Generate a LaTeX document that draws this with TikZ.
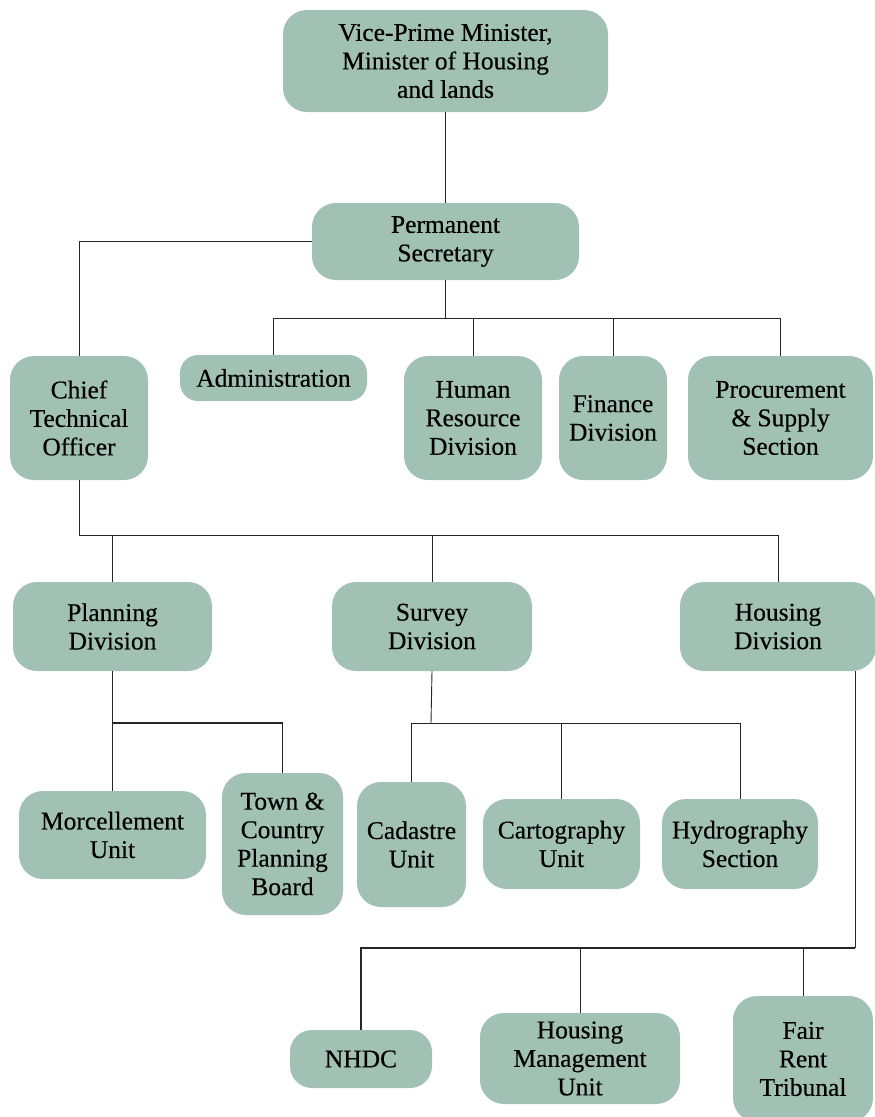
\documentclass[tikz,border=0pt]{standalone}
\usepackage{fontspec}
\setmainfont{Liberation Serif}
\newfontfamily\boxfont{Liberation Serif}[FakeBold=0.35]
\definecolor{boxfill}{RGB}{160,193,180}
\begin{document}
\begin{tikzpicture}[x=1pt,y=-1pt,
  box/.style={fill=boxfill,draw=none,rounded corners=24pt,inner sep=0pt,align=center,
    font=\boxfont\fontsize{25.5}{28.5}\selectfont},
  link/.style={draw=black!85,line width=0.9pt},
  thick link/.style={draw=black!85,line width=1.5pt}]
\useasboundingbox (0,0) rectangle (875,1117);
\node[box,minimum width=325,minimum height=102] (vp) at (445.5,61) {Vice-Prime Minister,\\Minister of Housing\\and lands};
\node[box,minimum width=267,minimum height=77] (ps) at (445.5,241.5) {Permanent\\Secretary};
\node[box,minimum width=138,minimum height=124] (cto) at (79,418) {Chief\\Technical\\Officer};
\node[box,minimum width=187,minimum height=46,rounded corners=18pt] (adm) at (273.5,378) {Administration};
\node[box,minimum width=138,minimum height=124] (hr) at (473,418) {Human\\Resource\\Division};
\node[box,minimum width=108,minimum height=124] (fin) at (613,418) {Finance\\Division};
\node[box,minimum width=185,minimum height=124] (proc) at (780.5,418) {Procurement\\\& Supply\\Section};
\node[box,minimum width=199,minimum height=89] (plan) at (112.5,626.5) {Planning\\Division};
\node[box,minimum width=200,minimum height=89] (surv) at (432,626.5) {Survey\\Division};
\node[box,minimum width=196,minimum height=89] (hous) at (778,626.5) {Housing\\Division};
\node[box,minimum width=187,minimum height=88] (morc) at (112.5,835) {Morcellement\\Unit};
\node[box,minimum width=121,minimum height=142] (town) at (282.5,844) {Town \&\\Country\\Planning\\Board};
\node[box,minimum width=109,minimum height=125] (cad) at (411.5,844.5) {Cadastre\\Unit};
\node[box,minimum width=157,minimum height=90] (carto) at (561.5,844) {Cartography\\Unit};
\node[box,minimum width=156,minimum height=90] (hydro) at (740,844) {Hydrography\\Section};
\node[box,minimum width=142,minimum height=58,rounded corners=22pt] (nhdc) at (361,1059) {NHDC};
\node[box,minimum width=200,minimum height=91] (hmu) at (580,1058.5) {Housing\\Management\\Unit};
\node[box,minimum width=140,minimum height=126] (frt) at (803,1059) {Fair\\Rent\\Tribunal};
% coordinates for buses
\coordinate (b1) at (445.5,318);
\coordinate (b2) at (79,535);
\coordinate (b3) at (112.5,723);
\coordinate (b4) at (431,723);
\coordinate (b5) at (855,948);
% connectors
\draw[link] (vp.south) -- (ps.north);
\draw[link] (ps.west) -| (cto.north);
\draw[link] (ps.south) -- (b1);
\draw[link] (b1) -| (adm.north);
\draw[link] (b1) -| (proc.north);
\draw[link] (hr.north) -- (hr.north |- b1);
\draw[link] (fin.north) -- (fin.north |- b1);
\draw[link] (cto.south) -- (b2);
\draw[link] (b2) -| (hous.north);
\draw[link] (plan.north) -- (plan.north |- b2);
\draw[link] (surv.north) -- (surv.north |- b2);
\draw[link] (plan.south) -- (morc.north);
\draw[thick link] (b3) -| (town.north);
\draw[link] (surv.south) -- (b4);
\draw[link] (cad.north) |- (b4) -| (hydro.north);
\draw[link] (carto.north) -- (carto.north |- b4);
\draw[link] (hous.south -| b5) -- (b5);
\draw[link] (b5) -| (frt.north);
\draw[thick link] (b5) -| (nhdc.north);
\draw[link] (hmu.north) -- (hmu.north |- b5);
\end{tikzpicture}
\end{document}
